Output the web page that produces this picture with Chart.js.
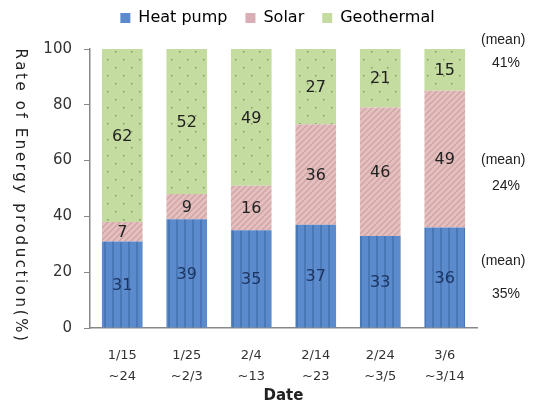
<!DOCTYPE html>
<html lang="en">
<head>
    <meta charset="UTF-8">
    <title>Rate of Energy production</title>
    <script src="https://cdn.jsdelivr.net/npm/chart.js"></script>
    <style>
        html, body { margin: 0; padding: 0; background: #fff; }
        #wrap { width: 540px; height: 405px; position: relative; }
    </style>
</head>
<body>
    <div id="wrap">
        <canvas id="energyChart"></canvas>
    </div>
    <script>
        // data
        const dateLabels = [['1/15', '~24'], ['1/25', '~2/3'], ['2/4', '~13'], ['2/14', '~23'], ['2/24', '~3/5'], ['3/6', '~3/14']];
        const heatPump = [31, 39, 35, 37, 33, 36];
        const solar = [7, 9, 16, 36, 46, 49];
        const geothermal = [62, 52, 49, 27, 21, 15];
        const yTicks = [0, 20, 40, 60, 80, 100];
        const meanLabels = ['35%', '24%', '41%'];   // heat pump, solar, geothermal

        const FONT = "'DejaVu Sans', sans-serif";
        const NARROW = "'Liberation Sans Narrow', 'Liberation Sans', sans-serif";

        // small tiles used as fill patterns
        function makePattern(w, h, draw) {
            const c = document.createElement('canvas');
            c.width = w; c.height = h;
            const g = c.getContext('2d');
            draw(g, w, h);
            return g.createPattern(c, 'repeat');
        }
        const bluePattern = makePattern(8, 8, (g, w, h) => {
            g.fillStyle = '#5b8bcc';
            g.fillRect(0, 0, w, h);
            g.fillStyle = '#4a77b6';
            g.fillRect(0, 0, 2, h);
        });
        const pinkPattern = makePattern(6, 6, (g, w, h) => {
            g.fillStyle = '#e4c0c0';
            g.fillRect(0, 0, w, h);
            g.strokeStyle = '#d2a4a4';
            g.lineWidth = 1.5;
            g.beginPath();
            g.moveTo(-1, h + 1); g.lineTo(w + 1, -1);
            g.moveTo(-1, 1); g.lineTo(1, -1);
            g.moveTo(w - 1, h + 1); g.lineTo(w + 1, h - 1);
            g.stroke();
        });
        const greenPattern = makePattern(16, 16, (g, w, h) => {
            g.fillStyle = '#c5dca0';
            g.fillRect(0, 0, w, h);
            g.fillStyle = '#7f9c62';
            g.fillRect(3, 3, 1.5, 1.5);
            g.fillRect(11, 11, 1.5, 1.5);
        });

        const solidColors = ['#5b8bcc', '#d9aeb4', '#c5dca0'];

        // legend height adjusted and the legend nudged right / up
        const legendTweak = {
            id: 'legendTweak',
            beforeInit(chart) {
                const legend = chart.legend;
                const fit = legend.fit;
                legend.fit = function () {
                    fit.call(this);
                    this.height += 3;
                };
                const draw = legend.draw;
                legend.draw = function () {
                    const ctx = chart.ctx;
                    ctx.save();
                    ctx.translate(39, -10);
                    draw.apply(this, arguments);
                    ctx.restore();
                };
            }
        };

        // value labels in the middle of each segment
        const valueLabels = {
            id: 'valueLabels',
            afterDatasetsDraw(chart) {
                const ctx = chart.ctx;
                ctx.save();
                ctx.font = '16px ' + FONT;
                ctx.textAlign = 'center';
                ctx.textBaseline = 'middle';
                chart.data.datasets.forEach((ds, i) => {
                    const meta = chart.getDatasetMeta(i);
                    meta.data.forEach((bar, j) => {
                        const mid = (bar.y + bar.base) / 2;
                        ctx.fillStyle = i === 0 ? '#1c3563' : '#222';
                        ctx.fillText(ds.data[j], bar.x, mid + 1);
                    });
                });
                ctx.restore();
            }
        };

        // rotated y title (reads top to bottom) and the mean notes on the right
        const sideTexts = {
            id: 'sideTexts',
            afterDraw(chart) {
                const ctx = chart.ctx;
                const y = chart.scales.y;
                const area = chart.chartArea;
                ctx.save();
                ctx.fillStyle = '#222';
                ctx.font = '15px ' + FONT;
                ctx.translate(20, 196);
                ctx.rotate(Math.PI / 2);
                ctx.textAlign = 'center';
                ctx.textBaseline = 'middle';
                ctx.letterSpacing = '2.6px';
                ctx.fillText('Rate of Energy production(%)', 0, 0);
                ctx.restore();

                ctx.save();
                ctx.fillStyle = '#222';
                ctx.font = '14px ' + NARROW;
                ctx.textBaseline = 'middle';
                const spots = [[24, 12], [60, 51], [103, 95]];
                spots.forEach((s, i) => {
                    ctx.textAlign = 'left';
                    ctx.fillText('(mean)', area.right + 4, y.getPixelForValue(s[0]));
                    ctx.textAlign = 'right';
                    ctx.fillText(meanLabels[i], area.right + 43, y.getPixelForValue(s[1]));
                });
                ctx.restore();
            }
        };

        new Chart(document.getElementById('energyChart'), {
            type: 'bar',
            data: {
                labels: dateLabels,
                datasets: [
                    { label: 'Heat pump', data: heatPump, backgroundColor: bluePattern },
                    { label: 'Solar', data: solar, backgroundColor: pinkPattern },
                    { label: 'Geothermal', data: geothermal, backgroundColor: greenPattern }
                ]
            },
            options: {
                responsive: true,
                maintainAspectRatio: false,
                animation: false,
                layout: { padding: { left: 0, right: 63, top: 2, bottom: 0 } },
                datasets: { bar: { categoryPercentage: 0.63, barPercentage: 1 } },
                plugins: {
                    legend: {
                        position: 'top',
                        labels: {
                            font: { family: FONT, size: 16 },
                            color: '#222',
                            boxWidth: 10,
                            boxHeight: 10,
                            padding: 18,
                            generateLabels(chart) {
                                return chart.data.datasets.map((ds, i) => ({
                                    text: ds.label,
                                    fillStyle: solidColors[i],
                                    strokeStyle: solidColors[i],
                                    lineWidth: 0,
                                    datasetIndex: i
                                }));
                            }
                        }
                    },
                    tooltip: { enabled: false }
                },
                scales: {
                    x: {
                        stacked: true,
                        afterFit(scale) { scale.height = 77; },
                        grid: { display: false },
                        border: { color: '#888', width: 1.5 },
                        ticks: { font: { family: FONT, size: 13, lineHeight: 1.55 }, color: '#333', padding: 10, maxRotation: 0 },
                        title: { display: true, text: 'Date', font: { family: FONT, size: 15, weight: 'bold' }, color: '#222', padding: { top: 0, bottom: 0 } }
                    },
                    y: {
                        stacked: true,
                        min: 0,
                        max: 100,
                        afterFit(scale) { scale.width = 90; },
                        afterBuildTicks(scale) { scale.ticks = yTicks.map(v => ({ value: v })); },
                        grid: { drawOnChartArea: false, tickLength: 6, color: '#888' },
                        border: { color: '#888', width: 1.5 },
                        ticks: { font: { family: FONT, size: 15 }, color: '#333', padding: 12 }
                    }
                }
            },
            plugins: [legendTweak, valueLabels, sideTexts]
        });
    </script>
</body>
</html>
